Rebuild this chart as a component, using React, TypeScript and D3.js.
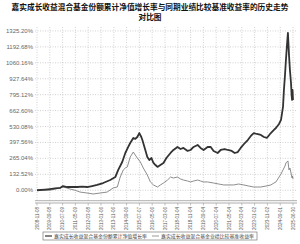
import React from 'react';
import * as d3 from 'd3';

const title1 = '嘉实成长收益混合基金份额累计净值增长率与同期业绩比较基准收益率的历史走势';
const title2 = '对比图';

const yTicks = [0, 132.52, 265.04, 397.56, 530.08, 662.6, 795.12, 927.64, 1060.16, 1192.68, 1325.2];

const xLabels = [
  '2008-11-08', '2009-09-08', '2010-07-09', '2011-05-09', '2012-03-08', '2013-01-06', '2013-11-06',
  '2014-09-06', '2015-07-07', '2016-05-06', '2017-03-06', '2018-01-04', '2018-11-04', '2019-09-04',
  '2020-07-04', '2021-05-04', '2022-03-04', '2023-01-02', '2023-11-02', '2024-09-01', '2025-06-30',
];

// fund cumulative NAV growth (%)
const fundYears = [
  2008.86, 2009.38, 2009.70, 2010.03, 2010.36, 2010.55, 2010.81, 2011.14, 2011.47, 2011.79, 2012.12,
  2012.44, 2012.77, 2013.16, 2013.62, 2013.95, 2014.14, 2014.40, 2014.60, 2014.79, 2014.92, 2015.12,
  2015.25, 2015.38, 2015.51, 2015.64, 2015.71, 2015.90, 2016.03, 2016.16, 2016.30, 2016.43, 2016.56,
  2016.69, 2016.88, 2017.08, 2017.27, 2017.54, 2017.73, 2017.99, 2018.19, 2018.38, 2018.65, 2018.84,
  2019.04, 2019.30, 2019.49, 2019.69, 2019.95, 2020.15, 2020.34, 2020.60, 2020.80, 2021.06, 2021.26,
  2021.52, 2021.71, 2021.91, 2022.10, 2022.37, 2022.56, 2022.76, 2022.95, 2023.15, 2023.41, 2023.61,
  2023.80, 2024.06, 2024.26, 2024.39, 2024.59, 2024.72, 2024.85, 2024.91, 2024.98, 2025.04, 2025.11,
  2025.17, 2025.24, 2025.30, 2025.37, 2025.41, 2025.44, 2025.47, 2025.50,
];
const fundValues = [
  0, 6, 10, 15, 19, 35, 27, 27, 27, 31, 27,
  35, 44, 60, 85, 110, 169, 235, 310, 360, 393, 435,
  427, 443, 476, 443, 418, 335, 277, 252, 268, 227, 210,
  194, 210, 227, 268, 310, 335, 360, 343, 352, 327, 335,
  360, 377, 352, 335, 360, 360, 327, 310, 335, 343, 335,
  327, 310, 318, 352, 393, 418, 452, 476, 468, 460, 443,
  435, 476, 502, 518, 551, 585, 693, 834, 959, 1084, 1209,
  1309, 1125, 1000, 892, 793, 751, 834, 751,
];

// performance benchmark return (%)
const benchYears = [
  2008.86, 2009.38, 2009.70, 2010.03, 2010.36, 2010.55, 2010.81, 2011.01, 2011.34, 2011.66, 2012.12,
  2012.51, 2012.97, 2013.42, 2013.81, 2014.08, 2014.27, 2014.47, 2014.60, 2014.73, 2014.92, 2015.12,
  2015.25, 2015.38, 2015.58, 2015.77, 2016.03, 2016.23, 2016.43, 2016.69, 2016.88, 2017.08, 2017.34,
  2017.54, 2017.73, 2017.99, 2018.19, 2018.38, 2018.65, 2018.84, 2019.04, 2019.30, 2019.49, 2019.69,
  2019.95, 2020.34, 2020.67, 2021.00, 2021.32, 2021.65, 2021.97, 2022.30, 2022.63, 2022.95, 2023.21,
  2023.41, 2023.74, 2024.06, 2024.26, 2024.39, 2024.59, 2024.72, 2024.85, 2024.98, 2025.04, 2025.17,
  2025.24, 2025.30, 2025.37, 2025.41, 2025.44, 2025.47, 2025.50,
];
const benchValues = [
  0, 0, 0, 10, 19, 27, 19, 10, 0, -15, -23,
  -31, -23, -15, 19, 27, 110, 169, 185, 194, 277, 318,
  293, 268, 235, 185, 127, 69, 44, 27, 44, 60, 85,
  110, 102, 110, 94, 85, 77, 69, 77, 85, 77, 69,
  69, 60, 52, 44, 44, 44, 52, 44, 35, 27, 27,
  27, 35, 44, 60, 69, 110, 135, 169, 202, 227, 244,
  169, 185, 144, 119, 102, 119, 94,
];

const legendItems = ['嘉实成长收益混合基金份额累计净值增长率', '嘉实成长收益混合基金业绩比较基准收益率'];

const W = 300;
const H = 244;
const left = 35;
const right = 297;
const top = 27;
const bottom = 203;

export default function App() {
  const x = d3.scaleLinear().domain([2008.86, 2025.5]).range([37, 293]);
  const xLab = d3.scaleLinear().domain([0, xLabels.length - 1]).range([37, 293]);
  const y = d3.scaleLinear().domain([-106, 1358]).range([bottom, top]);

  const fundLine = d3.line<number>().x((_, i) => x(fundYears[i])).y((d) => y(d));
  const benchLine = d3.line<number>().x((_, i) => x(benchYears[i])).y((d) => y(d));

  const cjk = '"Noto Sans CJK SC", sans-serif';
  const latin = '"Liberation Sans", Arial, sans-serif';

  return (
    <div style={{ position: 'fixed', left: 0, top: 0 }}>
      <svg width={W} height={H} style={{ display: 'block', background: '#fff' }}>
        <text x={W / 2} y={9.5} textAnchor="middle" fontFamily={cjk} fontWeight="bold" fontSize={7.7} fill="#111">
          {title1}
        </text>
        <text x={W / 2} y={19.5} textAnchor="middle" fontFamily={cjk} fontWeight="bold" fontSize={7.7} fill="#111">
          {title2}
        </text>

        {yTicks.map((t) => (
          <g key={t}>
            <line x1={left} x2={right} y1={y(t)} y2={y(t)} stroke="#b4b4b4" strokeWidth={0.6} strokeDasharray="1,1.5" />
            <text x={33} y={y(t) + 2} textAnchor="end" fontFamily={latin} fontSize={6} fill="#666">
              {t.toFixed(2) + '%'}
            </text>
          </g>
        ))}

        {xLabels.map((l, i) => (
          <g key={l}>
            <line x1={xLab(i)} x2={xLab(i)} y1={top} y2={bottom - 2} stroke="#b4b4b4" strokeWidth={0.6} strokeDasharray="1,1.5" />
            <line x1={xLab(i)} x2={xLab(i)} y1={bottom} y2={bottom + 2.5} stroke="#999" strokeWidth={0.6} />
            <text
              transform={`translate(${xLab(i) + 1.6},${207}) rotate(-90)`}
              textAnchor="end"
              fontFamily={latin}
              fontSize={4.5}
              fill="#555"
            >
              {l}
            </text>
          </g>
        ))}

        <line x1={left} x2={right} y1={bottom - 2.3} y2={bottom - 2.3} stroke="#999" strokeWidth={0.8} />
        <line x1={left} x2={right} y1={bottom} y2={bottom} stroke="#999" strokeWidth={0.8} />

        <path d={benchLine(benchValues) || ''} fill="none" stroke="#808080" strokeWidth={0.9} />
        <path d={fundLine(fundValues) || ''} fill="none" stroke="#333" strokeWidth={1.8} strokeLinejoin="round" />

        <rect x={43} y={232} width={214} height={8} fill="#fff" stroke="#666" strokeWidth={0.6} />
        {legendItems.map((l, i) => (
          <g key={l} transform={`translate(${45 + i * 107},236)`}>
            <line x1={0} x2={7} y1={0} y2={0} stroke={i === 0 ? '#333' : '#808080'} strokeWidth={i === 0 ? 1.2 : 0.8} />
            <text x={9} y={1.8} fontFamily={cjk} fontSize={4.9} fill="#444">
              {l}
            </text>
          </g>
        ))}
      </svg>
    </div>
  );
}
